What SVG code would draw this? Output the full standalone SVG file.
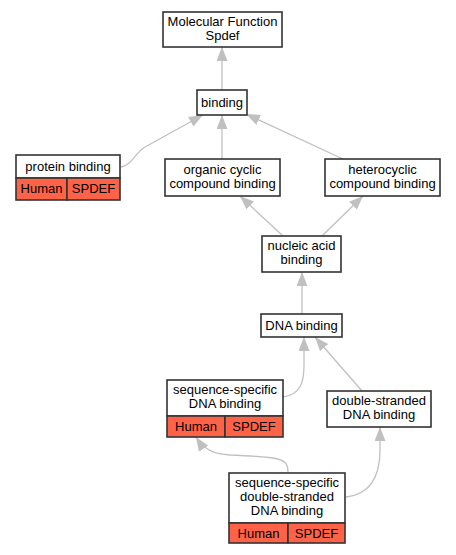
<svg xmlns="http://www.w3.org/2000/svg" width="456" height="555" viewBox="0 0 456 555">
<style>
.box{fill:#fff;stroke:#333;stroke-width:1.6}
.red{fill:#ff6347;stroke:#333;stroke-width:1.6}
.e{fill:none;stroke:#c0c0c0;stroke-width:1.3}
text{font-family:"Liberation Sans",Arial,sans-serif;font-size:13px;text-anchor:middle;fill:#000}
</style>
<defs>
<marker id="ah" markerUnits="userSpaceOnUse" markerWidth="15" markerHeight="12" refX="14" refY="5.5" orient="auto">
<path d="M0,0 L14,5.5 L0,11 Z" fill="#c0c0c0"/>
</marker>
</defs>
<rect width="456" height="555" fill="#fff"/>
<g id="connectors">
<path class="e" marker-end="url(#ah)" d="M222,90 L222,47"/>
<path class="e" marker-end="url(#ah)" d="M121,167 C132,165 135,153 145,147 L203,115"/>
<path class="e" marker-end="url(#ah)" d="M222,159 L222,115"/>
<path class="e" marker-end="url(#ah)" d="M343,159 L246,114"/>
<path class="e" marker-end="url(#ah)" d="M283,236 L240,196"/>
<path class="e" marker-end="url(#ah)" d="M322,236 L363,196"/>
<path class="e" marker-end="url(#ah)" d="M302,314 L302,272"/>
<path class="e" marker-end="url(#ah)" d="M283,397 C300,395 304,383 304,365 L304,337"/>
<path class="e" marker-end="url(#ah)" d="M362,391 L315,337"/>
<path class="e" marker-end="url(#ah)" d="M288,472 C288,458 280,457 230,455 C215,454 205,451 196,437"/>
<path class="e" marker-end="url(#ah)" d="M346,497 C372,494 380,475 380,450 L380,427"/>
</g>
<g id="mf">
<rect class="box" x="163" y="12" width="119" height="35"/>
<text x="222.5" y="26">Molecular Function</text>
<text x="222.5" y="40">Spdef</text>
</g>
<g id="binding">
<rect class="box" x="197" y="90" width="50" height="25"/>
<text x="222" y="107">binding</text>
</g>
<g id="protein">
<rect class="box" x="16" y="155" width="104" height="23"/>
<rect class="red" x="16" y="178" width="51" height="22"/>
<rect class="red" x="67" y="178" width="53" height="22"/>
<text x="68" y="171">protein binding</text>
<text x="41.5" y="193">Human</text>
<text x="93.5" y="193">SPDEF</text>
</g>
<g id="organic">
<rect class="box" x="165" y="159" width="115" height="37"/>
<text x="222.5" y="174">organic cyclic</text>
<text x="222.5" y="188">compound binding</text>
</g>
<g id="hetero">
<rect class="box" x="325" y="159" width="115" height="37"/>
<text x="382.5" y="174">heterocyclic</text>
<text x="382.5" y="188">compound binding</text>
</g>
<g id="nucleic">
<rect class="box" x="262" y="236" width="79" height="36"/>
<text x="301.5" y="250">nucleic acid</text>
<text x="301.5" y="264">binding</text>
</g>
<g id="dna">
<rect class="box" x="261" y="314" width="81" height="23"/>
<text x="301.5" y="330">DNA binding</text>
</g>
<g id="seqspec">
<rect class="box" x="167" y="380" width="116" height="36"/>
<rect class="red" x="167" y="416" width="58" height="21"/>
<rect class="red" x="225" y="416" width="58" height="21"/>
<text x="225" y="394">sequence-specific</text>
<text x="225" y="408">DNA binding</text>
<text x="196" y="431">Human</text>
<text x="254" y="431">SPDEF</text>
</g>
<g id="dsdna">
<rect class="box" x="327" y="391" width="104" height="36"/>
<text x="379" y="405">double-stranded</text>
<text x="379" y="419">DNA binding</text>
</g>
<g id="ssds">
<rect class="box" x="229" y="473" width="116" height="50"/>
<rect class="red" x="229" y="523" width="59" height="20"/>
<rect class="red" x="288" y="523" width="57" height="20"/>
<text x="287" y="487">sequence-specific</text>
<text x="287" y="501">double-stranded</text>
<text x="287" y="515">DNA binding</text>
<text x="258.5" y="538">Human</text>
<text x="316.5" y="538">SPDEF</text>
</g>
</svg>
